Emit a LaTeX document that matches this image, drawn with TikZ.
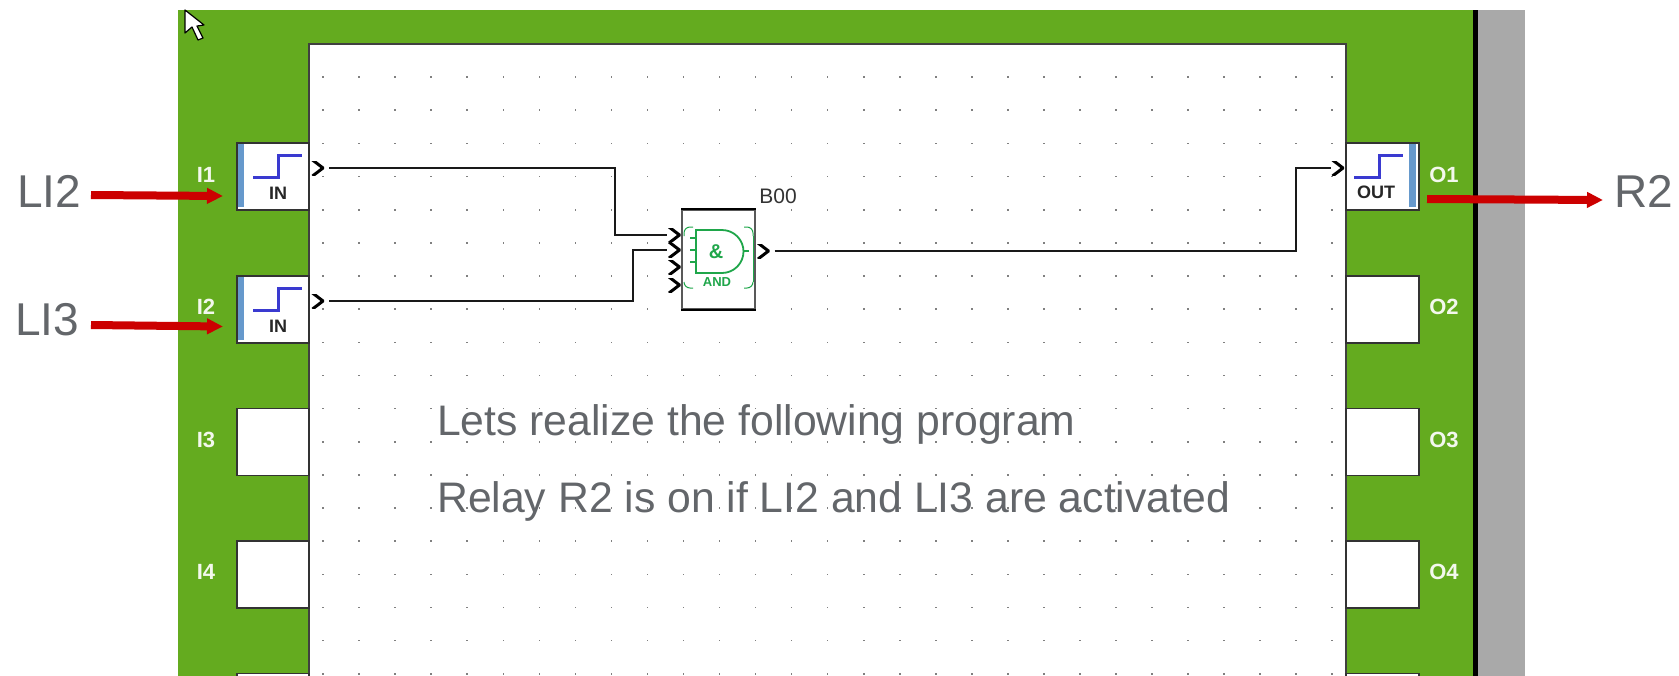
\documentclass[tikz,border=0pt]{standalone}
\usepackage{fontspec}
\setmainfont{Liberation Sans}
\usetikzlibrary{arrows.meta,positioning,calc}
\definecolor{boardgreen}{HTML}{64AB1F}
\definecolor{sidegray}{HTML}{A9A9A9}
\definecolor{tagred}{HTML}{CC0000}
\definecolor{notegray}{HTML}{63666A}
\definecolor{gategreen}{HTML}{1FA64A}
\definecolor{stepblue}{HTML}{3A3AD0}
\definecolor{stripblue}{HTML}{6699CC}
\begin{document}
\begin{tikzpicture}[x=1pt,y=-1pt,
slotbox/.style={draw=black!80,line width=1.6pt,fill=white,inner sep=0pt,minimum height=67pt},
portlabel/.style={text=white!92!boardgreen,font=\fontsize{22}{24}\selectfont\bfseries,inner sep=0pt},
kind/.style={font=\fontsize{18}{20}\selectfont\bfseries,text=black!85,inner sep=0pt},
pinmark/.style={inner sep=0pt,minimum width=13pt,minimum height=14pt,path picture={\draw[line width=3pt,miter limit=2] ([shift={(1.5pt,1pt)}]path picture bounding box.north west)--([xshift=-1pt]path picture bounding box.east)--([shift={(1.5pt,-1pt)}]path picture bounding box.south west);}},
wire/.style={line width=2.5pt,black!90},
stepline/.style={line width=3pt,stepblue},
tagarrow/.style={line width=8pt,tagred,-{Triangle[length=16pt,width=15pt]}},
tag/.style={text=notegray,font=\fontsize{46}{48}\selectfont,inner sep=0pt,anchor=base west},
note/.style={text=notegray,font=\fontsize{42.7}{46}\selectfont,inner sep=0pt,anchor=base west},
gateline/.style={gategreen,line width=1.8pt},
gatecorner/.style={gategreen,line width=1pt,rounded corners=6pt}]
\path[use as bounding box,clip] (0,0) rectangle (1679,675);
\fill[white] (0,0) rectangle (1679,675);
\fill[boardgreen] (178,10) rectangle (1474,680);
\fill[sidegray] (1474,10) rectangle (1525,680);
\draw[line width=4.5pt,black] (1475.5,10)--(1475.5,680);
\draw[line width=2pt,black!75,fill=white] (309,44) rectangle (1346,690);
\foreach \col in {0,...,28}{\foreach \row in {0,...,18}{\fill[black!50] ({322.3+36.04*\col},{76.3+33.15*\row}) rectangle +(1.6,1.6);}}
\filldraw[draw=black,fill=white,line width=1.2pt,line join=round] (185,10)--(185,33)--(192,27)--(198,40)--(203,38)--(197,26)--(204,25)--cycle;
\foreach \n/\y in {1/176.5,2/309.5,3/442,4/574.5,5/707}{
\node[slotbox,minimum width=72pt] (i\n) at (273,\y) {};
\node[slotbox,minimum width=73pt] (o\n) at (1382.5,\y) {};
}
\foreach \n/\y in {1/175,2/307,3/440,4/572}{
\node[portlabel] (il\n) at (206,\y) {I\n};
\node[portlabel] (ol\n) at (1444,\y) {O\n};
}
\foreach \n/\dy in {1/0,2/133}{
\begin{scope}[yshift=-\dy pt]
\fill[stripblue] (238,144) rectangle (244,207);
\draw[stepline] (253,177)--(278,177)--(278,155)--(302,155);
\node[kind] (in\n) at (278,193) {IN};
\node[pinmark,fill=white] (ip\n) at (317.5,168) {};
\end{scope}
}
\fill[stripblue] (1409,144) rectangle (1416,207);
\draw[stepline] (1354,177)--(1379,177)--(1379,155)--(1403,155);
\node[kind] (out1) at (1376,192) {OUT};
\node[pinmark] (op1) at (1337.5,168) {};
\node[draw=black!65,line width=1.8pt,fill=white,minimum width=73pt,minimum height=99pt,inner sep=0pt] (gate) at (718.5,259.5) {};
\draw[black,line width=1.5pt] (gate.north west)--(gate.north east) (gate.south west)--(gate.south east);
\node[pinmark] (g1) at (674,235) {};
\node[pinmark] (g2) at (674,250) {};
\node[pinmark] (g3) at (674,267) {};
\node[pinmark] (g4) at (674,285) {};
\node[pinmark] (gout) at (763,251) {};
\node[text=black!80,font=\fontsize{21}{23}\selectfont,inner sep=0pt] (gname) at (778,196) {B00};
\draw[gateline] (722,230)--(696,230)--(696,273)--(722,273) arc[start angle=90,end angle=-90,radius=21.5];
\draw[gateline] (690,238)--(696,238) (690,250)--(696,250) (690,262)--(696,262) (743.5,251)--(749,251);
\node[text=gategreen,font=\fontsize{20}{22}\selectfont\bfseries,inner sep=0pt] (amp) at (716,252) {\&};
\node[text=gategreen,font=\fontsize{13}{15}\selectfont\bfseries,inner sep=0pt] (andtext) at (717,282) {AND};
\draw[gatecorner] (684,236)|-(693,227);
\draw[gatecorner] (744,227)-|(753,236);
\draw[gatecorner] (684,282)|-(693,288);
\draw[gatecorner] (744,288)-|(753,282);
\draw[gategreen,line width=.6pt] (753,236)--(753,282);
\coordinate (knee1) at (615,200);
\coordinate (knee2) at (633,280);
\coordinate (knee3) at (1296,210);
\draw[wire,shorten <=5pt] (ip1.east)-|(knee1)|-(g1.west);
\draw[wire,shorten <=5pt] (ip2.east)-|(knee2)|-(g2.west);
\draw[wire,shorten <=5pt] (gout.east)-|(knee3)|-(op1.west);
\node[tag] (li2) at (17,207) {LI2};
\node[tag] (li3) at (15,335) {LI3};
\node[tag] (r2) at (1614,207) {R2};
\coordinate (li2tail) at (91,195);
\coordinate (li2tip) at (223,196);
\coordinate (li3tail) at (91,325);
\coordinate (li3tip) at (223,326.5);
\coordinate (r2tail) at (1427,199);
\coordinate (r2tip) at (1603,200);
\draw[tagarrow] (li2tail)--(li2tip);
\draw[tagarrow] (li3tail)--(li3tip);
\draw[tagarrow] (r2tail)--(r2tip);
\node[note] (line1) at (437,435) {Lets realize the following program};
\node[note] (line2) at (437,512) {Relay R2 is on if LI2 and LI3 are activated};
\end{tikzpicture}
\end{document}
